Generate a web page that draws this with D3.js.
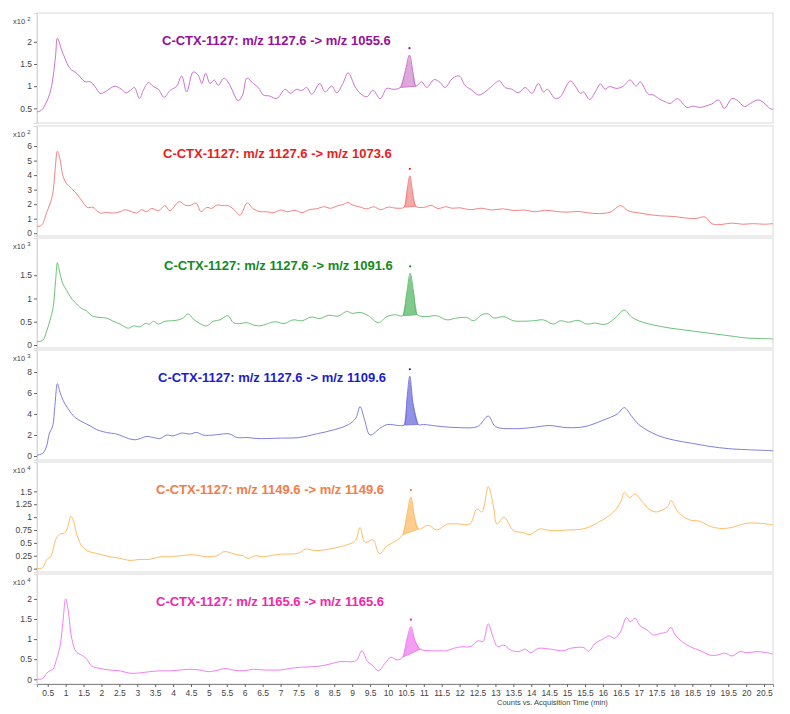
<!DOCTYPE html>
<html lang="en">
<head>
<meta charset="UTF-8">
<title>C-CTX-1127 MRM chromatograms</title>
<style>
    body { margin: 0; background: #fff; }
    svg { display: block; font-family: "Liberation Sans", Arial, sans-serif; }
</style>
</head>
<body>
<div id="chart"></div>
<script src="https://d3js.org/d3.v7.min.js"></script>
<script>
    // ---- data (time in min, counts in units of the panel exponent) ----
    const titles = [
        "C-CTX-1127: m/z 1127.6 -> m/z 1055.6",
        "C-CTX-1127: m/z 1127.6 -> m/z 1073.6",
        "C-CTX-1127: m/z 1127.6 -> m/z 1091.6",
        "C-CTX-1127: m/z 1127.6 -> m/z 1109.6",
        "C-CTX-1127: m/z 1149.6 -> m/z 1149.6",
        "C-CTX-1127: m/z 1165.6 -> m/z 1165.6"
    ];
    const exponents = [2, 2, 3, 3, 4, 4];
    const xTicks = d3.range(0.5, 20.51, 0.5);
    const yTicks = [
        [0.5, 1, 1.5, 2],
        [0, 1, 2, 3, 4, 5, 6],
        [0, 0.5, 1, 1.5],
        [0, 2, 4, 6, 8],
        [0, 0.25, 0.5, 0.75, 1, 1.25, 1.5],
        [0, 0.5, 1, 1.5, 2]
    ];
    // integrated peak window [start, end]
    const peakWindows = [
        [10.34, 10.78], [10.45, 10.78], [10.41, 10.82],
        [10.45, 10.85], [10.41, 10.85], [10.41, 10.90]
    ];

    const trace1 = [
        [0.2,0.42],[0.33,0.46],[0.45,0.62],[0.56,0.84],[0.65,1.21],[0.72,1.7],[0.77,2.08],[0.89,1.81],
        [0.98,1.63],[1.12,1.40],[1.31,1.29],[1.54,1.10],[1.68,1.10],[1.82,0.99],[1.96,0.84],[2.10,0.87],
        [2.24,0.95],[2.38,1.00],[2.56,0.93],[2.68,0.85],[2.80,0.90],[2.92,0.97],[3.06,0.72],[3.17,0.91],
        [3.31,1.08],[3.45,0.99],[3.59,0.93],[3.75,0.75],[3.91,0.90],[4.10,1.00],[4.24,1.23],[4.38,0.87],
        [4.56,1.32],[4.70,1.25],[4.80,1.06],[4.91,1.29],[5.03,1.06],[5.15,1.14],[5.26,1.02],[5.42,1.18],
        [5.59,1.02],[5.71,0.80],[5.82,0.67],[5.94,0.80],[6.06,1.18],[6.24,1.06],[6.38,0.97],[6.52,0.80],
        [6.69,0.78],[6.89,0.72],[7.13,0.93],[7.27,0.84],[7.45,0.93],[7.59,0.90],[7.73,0.97],[7.87,0.82],
        [8.10,1.06],[8.24,0.87],[8.43,1.00],[8.57,0.85],[8.74,1.06],[8.89,1.30],[9.08,0.99],[9.22,0.84],
        [9.41,0.76],[9.58,0.91],[9.78,0.72],[9.97,0.95],[10.15,0.93],[10.34,0.97],[10.47,1.30],[10.60,1.70],
        [10.70,1.30],[10.78,1.00],[10.94,1.10],[11.08,0.97],[11.29,1.15],[11.46,1.08],[11.59,0.97],[11.81,1.18],
        [11.99,1.23],[12.15,1.02],[12.34,0.91],[12.53,0.80],[12.71,0.87],[12.90,1.00],[13.11,1.12],[13.27,0.97],
        [13.46,0.93],[13.64,0.85],[13.83,0.97],[14.02,0.84],[14.20,1.06],[14.34,0.87],[14.45,0.93],[14.67,0.72],
        [14.81,0.76],[15.09,1.12],[15.23,1.00],[15.37,0.84],[15.46,0.87],[15.63,0.70],[15.79,0.87],[15.93,1.05],
        [16.06,0.93],[16.18,0.99],[16.39,0.95],[16.57,1.00],[16.76,1.14],[16.93,1.00],[17.04,1.10],[17.27,0.82],
        [17.41,0.80],[17.60,0.70],[17.74,0.65],[17.88,0.61],[18.08,0.72],[18.35,0.52],[18.53,0.55],[18.72,0.52],
        [18.86,0.55],[19.04,0.60],[19.23,0.69],[19.39,0.50],[19.60,0.72],[19.74,0.69],[19.95,0.54],[20.12,0.61],
        [20.32,0.69],[20.49,0.63],[20.66,0.50],[20.75,0.48]
    ];
    const trace2 = [
        [0.2,0.46],[0.33,0.55],[0.47,1.43],[0.56,2.01],[0.64,2.71],[0.70,4.21],[0.77,5.65],[0.84,5.14],
        [0.92,3.98],[1.03,3.40],[1.17,3.06],[1.31,2.71],[1.45,2.24],[1.60,1.78],[1.77,1.78],[1.96,1.39],
        [2.14,1.43],[2.33,1.39],[2.52,1.48],[2.66,1.62],[2.84,1.48],[2.98,1.39],[3.12,1.62],[3.26,1.48],
        [3.40,1.71],[3.59,1.55],[3.77,1.90],[3.91,1.55],[4.17,2.17],[4.33,1.94],[4.47,1.90],[4.64,2.08],
        [4.78,1.48],[4.94,1.78],[5.08,1.71],[5.22,1.94],[5.39,1.90],[5.54,1.90],[5.68,1.67],[5.87,1.25],
        [6.07,2.08],[6.24,1.67],[6.43,1.48],[6.61,1.48],[6.8,1.42],[7.0,1.6],[7.2,1.48],[7.4,1.58],
        [7.6,1.42],[7.8,1.62],[8.0,1.68],[8.2,1.82],[8.4,1.72],[8.6,1.9],[8.75,1.98],[8.88,2.12],
        [9.0,1.95],[9.2,1.82],[9.4,1.68],[9.6,1.82],[9.8,1.62],[10.0,1.8],[10.25,1.72],[10.45,1.8],
        [10.53,2.9],[10.61,3.95],[10.7,2.6],[10.78,1.85],[11.0,1.78],[11.2,1.92],[11.4,1.7],[11.6,1.82],
        [11.8,1.72],[12.0,1.75],[12.3,1.62],[12.6,1.72],[12.9,1.6],[13.2,1.68],[13.5,1.56],[13.8,1.6],
        [14.1,1.48],[14.4,1.58],[14.7,1.5],[15.0,1.45],[15.3,1.5],[15.6,1.4],[15.9,1.35],[16.2,1.45],
        [16.5,1.9],[16.7,1.55],[17.0,1.4],[17.3,1.28],[17.6,1.2],[18.0,1.15],[18.3,1.05],[18.6,1.02],
        [18.85,1.12],[19.05,0.65],[19.3,0.6],[19.6,0.7],[19.9,0.62],[20.2,0.66],[20.5,0.62],[20.75,0.66]
    ];
    const trace3 = [
        [0.2,0.07],[0.36,0.10],[0.47,0.30],[0.56,0.52],[0.65,0.81],[0.72,1.39],[0.77,1.77],[0.82,1.61],
        [0.92,1.32],[1.03,1.17],[1.17,0.99],[1.31,0.88],[1.45,0.78],[1.57,0.74],[1.73,0.63],[1.96,0.59],
        [2.14,0.58],[2.33,0.51],[2.52,0.45],[2.75,0.36],[2.89,0.41],[3.08,0.39],[3.22,0.46],[3.35,0.45],
        [3.45,0.51],[3.59,0.45],[3.77,0.51],[3.96,0.52],[4.15,0.54],[4.28,0.58],[4.42,0.67],[4.56,0.56],
        [4.75,0.46],[4.94,0.41],[5.12,0.51],[5.31,0.54],[5.53,0.63],[5.68,0.48],[5.87,0.46],[6.06,0.48],
        [6.24,0.43],[6.43,0.41],[6.61,0.45],[6.85,0.50],[7.1,0.46],[7.35,0.54],[7.6,0.52],[7.85,0.60],
        [8.1,0.57],[8.35,0.64],[8.6,0.62],[8.85,0.72],[9.0,0.68],[9.22,0.70],[9.45,0.63],[9.73,0.48],
        [9.97,0.61],[10.20,0.65],[10.41,0.63],[10.52,1.1],[10.62,1.54],[10.72,1.1],[10.82,0.65],[11.08,0.61],
        [11.36,0.63],[11.64,0.54],[11.92,0.58],[12.2,0.59],[12.39,0.52],[12.62,0.65],[12.80,0.67],[12.95,0.58],
        [13.24,0.61],[13.50,0.52],[13.69,0.51],[14.06,0.52],[14.34,0.54],[14.62,0.45],[14.81,0.52],[15.05,0.49],
        [15.3,0.53],[15.55,0.45],[15.8,0.47],[16.05,0.44],[16.3,0.55],[16.6,0.75],[16.8,0.60],[17.0,0.52],
        [17.3,0.45],[17.6,0.40],[17.9,0.36],[18.2,0.33],[18.5,0.30],[18.8,0.27],[19.1,0.24],[19.4,0.21],
        [19.7,0.18],[20.0,0.15],[20.4,0.14],[20.75,0.13]
    ];
    const trace4 = [
        [0.2,0.07],[0.36,0.26],[0.47,0.96],[0.54,2.09],[0.64,2.88],[0.70,4.81],[0.77,6.89],[0.84,6.09],
        [0.93,5.29],[1.07,4.49],[1.26,3.68],[1.49,3.20],[1.68,2.88],[1.87,2.50],[2.14,2.24],[2.42,2.09],
        [2.56,1.92],[2.75,1.66],[2.94,1.54],[3.08,1.66],[3.26,1.86],[3.45,1.76],[3.63,1.66],[3.82,1.99],
        [4.0,1.92],[4.24,2.18],[4.47,2.09],[4.66,2.24],[4.84,1.99],[5.12,1.99],[5.36,2.09],[5.59,2.09],
        [5.78,1.76],[6.06,1.76],[6.34,1.66],[6.61,1.66],[7.0,1.7],[7.5,1.75],[8.0,2.1],[8.5,2.5],
        [8.9,3.0],[9.1,3.6],[9.22,4.7],[9.35,3.4],[9.5,2.0],[9.8,2.7],[10.0,3.0],[10.3,2.9],
        [10.45,2.95],[10.53,5.5],[10.61,7.6],[10.7,5.0],[10.85,3.0],[11.0,3.0],[11.5,2.8],[12.0,2.7],
        [12.5,2.8],[12.8,3.8],[13.0,2.8],[13.5,2.6],[14.0,2.7],[14.5,2.9],[15.0,2.7],[15.5,2.8],
        [16.0,3.4],[16.4,4.0],[16.6,4.6],[16.8,3.8],[17.0,3.0],[17.5,2.0],[18.0,1.5],[18.5,1.2],
        [19.0,0.9],[19.5,0.7],[20.0,0.6],[20.75,0.5]
    ];
    const trace5 = [
        [0.2,0.0],[0.36,0.02],[0.47,0.18],[0.58,0.23],[0.65,0.38],[0.75,0.61],[0.84,0.67],[0.95,0.69],
        [1.03,0.75],[1.15,1.02],[1.23,0.90],[1.32,0.64],[1.45,0.44],[1.59,0.35],[1.77,0.31],[1.96,0.28],
        [2.24,0.23],[2.52,0.20],[2.80,0.16],[3.08,0.18],[3.35,0.18],[3.63,0.23],[3.91,0.23],[4.19,0.25],
        [4.56,0.27],[4.94,0.23],[5.22,0.25],[5.42,0.33],[5.59,0.31],[5.79,0.27],[5.96,0.25],[6.10,0.20],
        [6.29,0.25],[6.52,0.23],[6.69,0.25],[7.0,0.28],[7.5,0.30],[7.7,0.38],[8.0,0.35],[8.5,0.40],
        [8.8,0.45],[9.0,0.50],[9.1,0.55],[9.22,0.80],[9.36,0.51],[9.58,0.56],[9.76,0.29],[9.97,0.44],
        [10.2,0.53],[10.41,0.66],[10.53,1.05],[10.64,1.39],[10.74,1.0],[10.85,0.77],[11.13,0.84],[11.36,0.75],
        [11.64,0.86],[11.92,0.87],[12.29,0.87],[12.48,1.16],[12.62,1.10],[12.80,1.59],[12.95,1.19],[13.04,0.87],
        [13.24,1.00],[13.50,0.74],[13.78,0.70],[13.96,0.66],[14.24,0.77],[14.52,0.74],[14.81,0.74],[15.0,0.75],
        [15.5,0.78],[16.0,0.95],[16.3,1.10],[16.5,1.30],[16.6,1.48],[16.75,1.38],[16.9,1.45],[17.1,1.30],
        [17.3,1.15],[17.5,1.10],[17.8,1.20],[17.9,1.32],[18.1,1.10],[18.4,0.95],[18.7,0.92],[19.0,0.82],
        [19.3,0.78],[19.6,0.80],[20.0,0.88],[20.4,0.88],[20.75,0.85]
    ];
    const trace6 = [
        [0.2,0.0],[0.36,0.02],[0.47,0.15],[0.56,0.21],[0.65,0.25],[0.75,0.52],[0.84,0.81],[0.92,1.39],
        [1.0,2.0],[1.07,1.72],[1.17,1.02],[1.29,0.69],[1.45,0.60],[1.57,0.52],[1.73,0.33],[1.96,0.27],
        [2.24,0.23],[2.52,0.21],[2.80,0.15],[3.08,0.16],[3.35,0.19],[3.63,0.21],[3.91,0.21],[4.19,0.23],
        [4.47,0.25],[4.75,0.23],[4.98,0.19],[5.26,0.23],[5.45,0.27],[5.68,0.23],[5.96,0.21],[6.24,0.25],
        [6.52,0.23],[6.71,0.23],[6.99,0.23],[7.27,0.27],[7.55,0.30],[7.83,0.31],[8.10,0.33],[8.38,0.38],
        [8.66,0.44],[9.0,0.44],[9.13,0.48],[9.27,0.71],[9.43,0.44],[9.59,0.33],[9.73,0.21],[9.92,0.40],
        [10.08,0.55],[10.25,0.48],[10.41,0.55],[10.53,1.0],[10.64,1.31],[10.76,0.95],[10.90,0.75],[11.18,0.71],
        [11.46,0.71],[11.64,0.71],[11.83,0.77],[12.06,0.81],[12.29,0.81],[12.53,0.96],[12.65,0.94],[12.80,1.38],
        [12.93,1.06],[13.06,0.81],[13.23,0.85],[13.42,0.73],[13.65,0.69],[13.84,0.75],[13.98,0.66],[14.2,0.77],
        [14.53,0.75],[14.90,0.71],[15.09,0.77],[15.46,0.79],[15.60,0.70],[15.79,0.90],[15.98,0.99],[16.17,1.08],
        [16.33,1.02],[16.49,1.18],[16.66,1.54],[16.76,1.43],[16.90,1.52],[17.04,1.33],[17.23,1.23],[17.41,1.10],
        [17.60,1.14],[17.79,1.18],[17.90,1.29],[18.02,1.10],[18.21,0.94],[18.44,0.81],[18.72,0.71],[19.0,0.60],
        [19.18,0.60],[19.42,0.65],[19.60,0.58],[19.83,0.69],[20.02,0.66],[20.30,0.69],[20.58,0.66],[20.75,0.63]
    ];
    const traces = [trace1, trace2, trace3, trace4, trace5, trace6];

    // ---- styling / layout ----
    const titleColors = ["#96109a", "#ec1c1c", "#128a1e", "#1c1ccf", "#f47c48", "#ee2aaa"];
    const lineColors  = ["#c662c6", "#f47474", "#5cbb6a", "#7070da", "#ffb455", "#f070f0"];
    const fillColors  = ["#d79ad7", "#f39b9b", "#6cc07a", "#7e7ee0", "#ffc57a", "#f28cf2"];
    const titleX = [162, 163, 164, 158, 156, 156];
    const yDomains = [[0.17, 2.65], [-0.19, 7.38], [-0.065, 2.30], [-0.385, 10.1], [-0.065, 2.07], [-0.117, 2.62]];

    const width = 790, height = 714;
    const left = 37, right = 773;
    const panelTops = [13, 126, 238, 350, 462, 574];
    const panelH = 110;

    const svg = d3.select("#chart").append("svg")
        .attr("width", width)
        .attr("height", height);

    svg.append("rect").attr("width", width).attr("height", height).attr("fill", "#fff");

    const x = d3.scaleLinear().domain([0.2, 20.75]).range([left, right]);

    traces.forEach((trace, i) => {
        const top = panelTops[i];
        const y = d3.scaleLinear().domain(yDomains[i]).range([top + panelH, top]);
        const g = svg.append("g");

        // panel frame
        g.append("rect")
            .attr("x", left).attr("y", top)
            .attr("width", right - left).attr("height", panelH)
            .attr("fill", "none")
            .attr("stroke", "#e6e6e6")
            .attr("stroke-width", 1.5);

        // y axis
        const yAxis = d3.axisLeft(y).tickValues(yTicks[i]).tickSize(3).tickPadding(2)
            .tickFormat(d3.format("~g"));
        const ya = g.append("g").attr("transform", `translate(${left},0)`).call(yAxis);
        ya.select(".domain").attr("stroke", "#d8d8d8");
        ya.selectAll(".tick line").attr("stroke", "#666");
        ya.selectAll("text").attr("fill", "#444").attr("font-size", 8.5)
            .attr("font-family", "'Liberation Sans', Arial, sans-serif");

        // exponent label
        const ex = g.append("text").attr("x", 13).attr("y", top + 11)
            .attr("fill", "#444").attr("font-size", 7.5);
        ex.append("tspan").text("x10 ");
        ex.append("tspan").attr("font-size", 6).attr("dy", -3).text(exponents[i]);

        // peak shading
        const [p0, p1] = peakWindows[i];
        const line = d3.line().x(d => x(d[0])).y(d => y(d[1])).curve(d3.curveCatmullRom.alpha(0.5));
        const inPeak = trace.filter(d => d[0] >= p0 && d[0] <= p1);
        const a = inPeak[0], b = inPeak[inPeak.length - 1];
        const area = d3.area()
            .x(d => x(d[0]))
            .y0(d => y(a[1] + (b[1] - a[1]) * (d[0] - a[0]) / (b[0] - a[0])))
            .y1(d => y(d[1]))
            .curve(d3.curveLinear);
        g.append("path").datum(inPeak)
            .attr("d", area)
            .attr("fill", fillColors[i])
            .attr("fill-opacity", 0.85);
        g.append("line")
            .attr("x1", x(a[0])).attr("y1", y(a[1]))
            .attr("x2", x(b[0])).attr("y2", y(b[1]))
            .attr("stroke", lineColors[i]).attr("stroke-width", 0.8);

        // trace
        g.append("path").datum(trace)
            .attr("d", line)
            .attr("fill", "none")
            .attr("stroke", lineColors[i])
            .attr("stroke-width", 0.9);

        // apex marker
        const apex = d3.greatest(inPeak, d => d[1]);
        g.append("circle")
            .attr("cx", x(apex[0])).attr("cy", y(apex[1]) - 7)
            .attr("r", 1.1).attr("fill", titleColors[i]);

        // title
        g.append("text")
            .attr("x", titleX[i]).attr("y", top + 32)
            .attr("fill", titleColors[i])
            .attr("font-size", 13).attr("font-weight", "bold")
            .text(titles[i]);
    });

    // x axis on the last panel
    const bottom = panelTops[5] + panelH;
    const xAxis = d3.axisBottom(x).tickValues(xTicks).tickSize(3).tickPadding(3)
        .tickFormat(d3.format("~g"));
    const xa = svg.append("g").attr("transform", `translate(0,${bottom})`).call(xAxis);
    xa.select(".domain").attr("stroke", "#888");
    xa.selectAll(".tick line").attr("stroke", "#666");
    xa.selectAll("text").attr("fill", "#444").attr("font-size", 8.5)
        .attr("font-family", "'Liberation Sans', Arial, sans-serif");

    svg.append("text")
        .attr("x", 497).attr("y", 705)
        .attr("fill", "#444").attr("font-size", 7.5)
        .text("Counts vs. Acquisition Time (min)");
</script>
</body>
</html>
